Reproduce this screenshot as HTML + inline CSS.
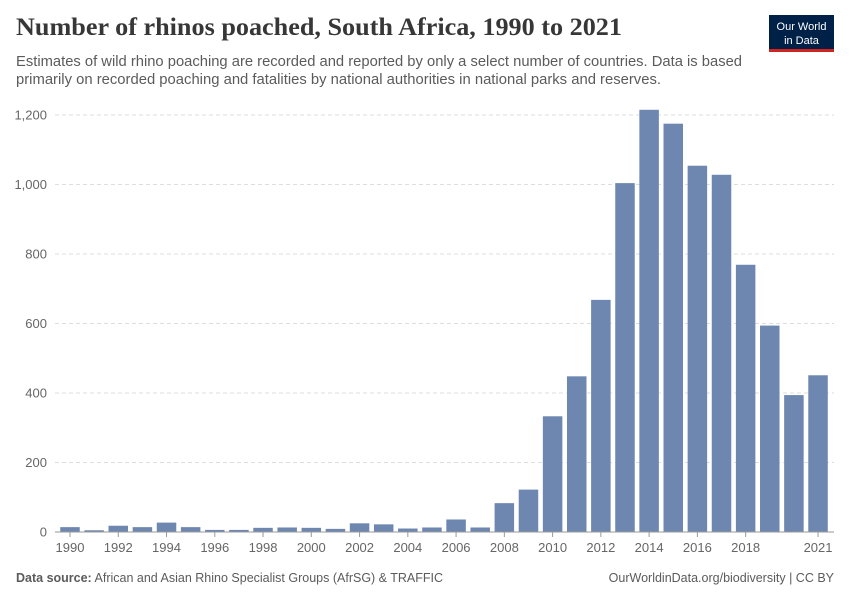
<!DOCTYPE html>
<html><head><meta charset="utf-8"><style>
body{margin:0;background:#fff;width:850px;height:600px;overflow:hidden}
svg text{font-family:"Liberation Sans",sans-serif}
</style></head><body>
<svg id="s" width="850" height="600" xmlns="http://www.w3.org/2000/svg">
<text x="16" y="35" style="font-family:'Liberation Serif',serif" font-weight="bold" font-size="25" fill="#373737" textLength="606" lengthAdjust="spacingAndGlyphs">Number of rhinos poached, South Africa, 1990 to 2021</text>
<text x="16" y="66" font-size="14.5" fill="#5b5b5b" textLength="726" lengthAdjust="spacingAndGlyphs">Estimates of wild rhino poaching are recorded and reported by only a select number of countries. Data is based</text>
<text x="16" y="84" font-size="14.5" fill="#5b5b5b" textLength="645" lengthAdjust="spacingAndGlyphs">primarily on recorded poaching and fatalities by national authorities in national parks and reserves.</text>
<rect x="769" y="15" width="65" height="37" fill="#002147"/>
<rect x="769" y="49" width="65" height="3" fill="#ce261e"/>
<text x="801.5" y="30" font-size="11" fill="#fff" text-anchor="middle">Our World</text>
<text x="801.5" y="44" font-size="11" fill="#fff" text-anchor="middle">in Data</text>
<g id="g"></g>
<text x="16" y="582" font-size="12.5" fill="#5b5b5b"><tspan font-weight="bold">Data source:</tspan> African and Asian Rhino Specialist Groups (AfrSG) &amp; TRAFFIC</text>
<text x="834" y="582" font-size="12.5" fill="#5b5b5b" text-anchor="end">OurWorldinData.org/biodiversity | CC BY</text>
</svg>
<script>
var g=document.getElementById('g'),h='';
var vals=[14,5,18,14,27,14,6,6,12,13,12,9,25,22,10,13,36,13,83,122,333,448,668,1004,1215,1175,1054,1028,769,594,394,451];
var k=0.3475,b=532;
for(var v=0;v<=1200;v+=200){var y=b-v*k;
if(v>0)h+='<line x1="55" x2="834" y1="'+y+'" y2="'+y+'" stroke="#ddd" stroke-dasharray="4,3"/>';
h+='<text x="47" y="'+(y+4.5)+'" font-size="13" fill="#666" text-anchor="end">'+(v>=1000?v.toString().replace(/(\d)(\d{3})$/,'$1,$2'):v)+'</text>';}
for(var i=0;i<vals.length;i++){var cx=70+24.13*i,hh=vals[i]*k;
h+='<rect x="'+(cx-9.75)+'" y="'+(b-hh)+'" width="19.5" height="'+hh+'" fill="#6d87b0"/>';
if((i%2==0&&i<30)||i==31){h+='<line x1="'+cx+'" x2="'+cx+'" y1="'+b+'" y2="'+(b+5)+'" stroke="#999"/>';
h+='<text x="'+cx+'" y="'+(b+20)+'" font-size="13" fill="#666" text-anchor="middle">'+(1990+i)+'</text>';}}
h+='<line x1="55" x2="834" y1="'+b+'" y2="'+b+'" stroke="#999"/>';
g.innerHTML=h;
</script>
</body></html>
